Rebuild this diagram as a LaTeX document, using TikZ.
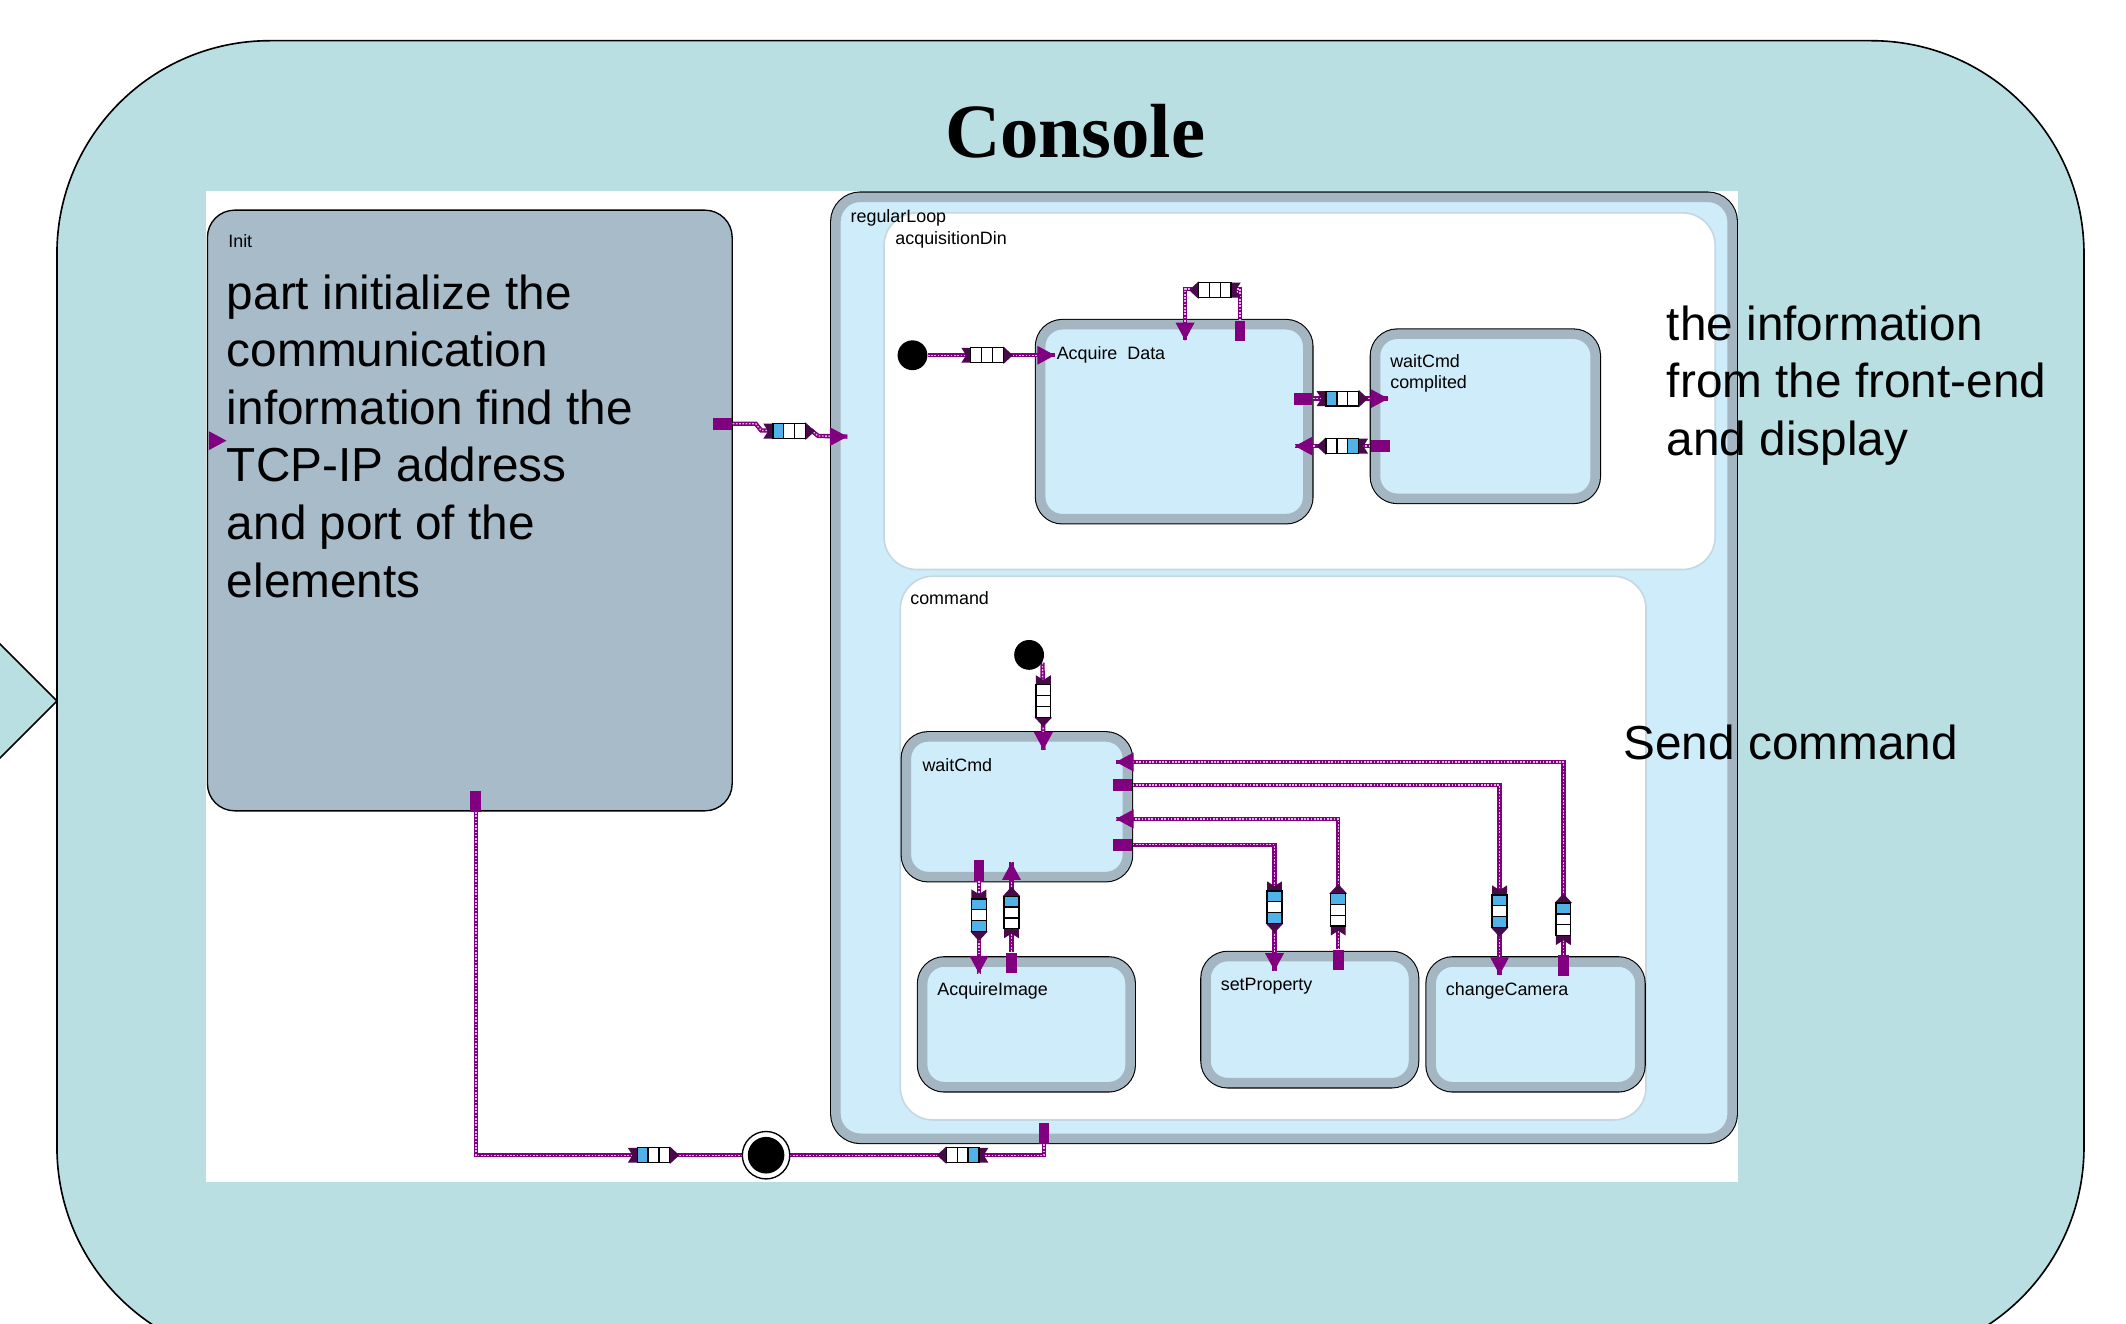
\documentclass[tikz,border=0pt]{standalone}
\usepackage{fontspec}
\setmainfont{Liberation Sans}
\newfontfamily\titlef{Liberation Serif}
\usetikzlibrary{fit,calc}
\definecolor{bgteal}{HTML}{B9DFE3}
\definecolor{initfill}{HTML}{A7BCC8}
\definecolor{stblue}{HTML}{CFECFA}
\definecolor{stgray}{HTML}{A3B6C1}
\definecolor{regline}{HTML}{C5D8E2}
\definecolor{trp}{HTML}{800080}
\definecolor{trl}{HTML}{E6B3E6}
\definecolor{qblue}{HTML}{4FB2E8}
\definecolor{qcap}{HTML}{4A0A4A}
\pgfdeclarelayer{cn}
\pgfdeclarelayer{top}
\pgfsetlayers{main,cn,top}
\begin{document}
\begin{tikzpicture}[x=0.5pt,y=-0.5pt,
  stbox/.style={rounded corners=#1, fill=stblue, draw=stgray, line width=3.5pt, inner sep=-1.75pt, preaction={draw=black, line width=4.3pt}},
  stbox/.default=8pt,
  rgn/.style={rounded corners=12pt, fill=white, draw=regline, line width=0.6pt, inner sep=0pt},
  initbox/.style={rounded corners=10pt, fill=initfill, draw=black, line width=0.5pt, inner sep=0pt},
  hport/.style={fill=trp, inner sep=0pt, minimum width=7pt, minimum height=4.5pt},
  vport/.style={fill=trp, inner sep=0pt, minimum width=4pt, minimum height=7.5pt},
  idot/.style={circle, fill=black, inner sep=0pt, minimum size=11pt},
  conn/.style={draw=trp, line width=1.6pt, postaction={draw=trl, line width=0.5pt, dash pattern=on 0.6pt off 0.6pt}},
  lbl/.style={font=\fontsize{6.6}{7.8}\selectfont, inner sep=0pt, anchor=west},
  big/.style={font=\fontsize{17.6}{21.25}\selectfont, align=left, inner sep=0pt, anchor=north west},
  pics/ah/.style={code={\fill[trp] (0,0) -- (-13,-7) -- (-13,7) -- cycle;}},
  pics/queue/.style n args={3}{code={
    \fill[qcap] (-19,-5.5) -- (-12,-5.5) -- (-12,5.5) -- (-19,5.5) -- (-15.5,0) -- cycle;
    \fill[qcap] (12,-6.5) -- (19,0) -- (12,6.5) -- cycle;
    \draw[black, line width=0.5pt, fill=#1] (-12,-5.5) rectangle (-4,5.5);
    \draw[black, line width=0.5pt, fill=#2] (-4,-5.5) rectangle (4,5.5);
    \draw[black, line width=0.5pt, fill=#3] (4,-5.5) rectangle (12,5.5);
  }}
]
\useasboundingbox (0,0) rectangle (1568,976);
\fill[white] (0,0) rectangle (1568,976);
\begin{scope}
  \clip (0,0) rectangle (1568,976);
  \draw[fill=bgteal, line width=0.6pt] (-10,465) -- (42,517) -- (-10,569);
  \draw[fill=bgteal, line width=0.6pt, rounded corners=78.5pt] (42,30) rectangle (1537,1003);
\end{scope}
\node[font=\titlef\bfseries\fontsize{28.3}{30}\selectfont] (title) at (793,97) {Console};
\node[fill=white, inner sep=0pt, fit={(152,141) (1282,872)}] (shot) {};
% containers and states
\node[initbox, fit={(153,155) (540,598)}] (init) {};
\node[stbox=9pt, fit={(613,142) (1281,843)}] (rl) {};
\node[rgn, fit={(652,157) (1265,420)}] (acqdin) {};
\node[rgn, fit={(664,425) (1214,826)}] (cmd) {};
\node[stbox, fit={(764,236) (968,386)}] (acq) {};
\node[stbox, fit={(1011,243) (1180,371)}] (wcc) {};
\node[stbox, fit={(665,540) (835,650)}] (wc) {};
\node[stbox, fit={(677,706) (837,805)}] (ai) {};
\node[stbox, fit={(886,702) (1046,802)}] (sp) {};
\node[stbox, fit={(1052,706) (1213,805)}] (cc) {};
% labels
\node[lbl] (linit) at (168,178) {Init};
\node[lbl] (lrl) at (627,161) {regularLoop};
\node[lbl] (lad) at (660,177) {acquisitionDin};
\node[lbl] (lacq) at (779,262) {Acquire\ \ Data};
\node[lbl, align=left, anchor=north west] (lwcc) at (1025,261) {waitCmd\\complited};
\node[lbl] (lcmd) at (671,441) {command};
\node[lbl] (lwc) at (680,564) {waitCmd};
\node[lbl] (lai) at (691,731) {AcquireImage};
\node[lbl] (lsp) at (900,727) {setProperty};
\node[lbl] (lcc) at (1066,731) {changeCamera};
\node[big] (tinit) at (167,202) {part initialize the\\communication\\information find the\\TCP-IP address\\and port of the\\elements};
\node[big] (tinfo) at (1229,225) {the information\\from the front-end\\and display};
\node[big] (tsend) at (1197,534) {Send command};
% markers
\begin{pgfonlayer}{top}
  \node[hport] (pInitR) at (533,312.5) {};
  \node[vport] (pInitB) at (351,591) {};
  \node[vport] (pSelf) at (914.5,244) {};
  \node[hport] (pAcqR) at (961,294) {};
  \node[hport] (pWccL) at (1018,329) {};
  \node[vport] (pRL) at (770,836) {};
  \node[hport] (pW2) at (828,579) {};
  \node[hport] (pW4) at (828,623) {};
  \node[vport] (pWB) at (722,642) {};
  \node[vport] (pAI) at (746,710) {};
  \node[vport] (pSP) at (987,708) {};
  \node[vport] (pCC) at (1153,712) {};
  \node[idot] (d1) at (673,262) {};
  \node[idot] (d2) at (759,483) {};
  \node[circle, draw=black, line width=0.5pt, fill=white, inner sep=0pt, minimum size=17.5pt] (fin) at (565,852) {};
  \node[circle, fill=black, inner sep=0pt, minimum size=13.5pt] (fini) at (fin.center) {};
  \coordinate (tInit) at (167,325);
  \coordinate (tRL) at (625,322);
  \coordinate (tAcq) at (778,262);
  \coordinate (tSelf) at (874,251);
  \coordinate (tWcc) at (1024,294);
  \coordinate (tAcqL) at (955,329);
  \coordinate (tWc) at (769.5,553);
  \coordinate (tAI) at (722,718);
  \coordinate (tWcB) at (746,636);
  \coordinate (tSP) at (940,716);
  \coordinate (tCC) at (1106,719);
  \coordinate (tW3) at (823,604);
  \coordinate (tW1) at (823,562);
  \pic at (tInit) {ah};
  \pic at (tRL) {ah};
  \pic at (tAcq) {ah};
  \pic[rotate=-90] at (tSelf) {ah};
  \pic at (tWcc) {ah};
  \pic[rotate=180] at (tAcqL) {ah};
  \pic[rotate=-90] at (tWc) {ah};
  \pic[rotate=-90] at (tAI) {ah};
  \pic[rotate=90] at (tWcB) {ah};
  \pic[rotate=-90] at (tSP) {ah};
  \pic[rotate=-90] at (tCC) {ah};
  \pic[rotate=180] at (tW3) {ah};
  \pic[rotate=180] at (tW1) {ah};
  \pic at (582,318) {queue={qblue}{white}{white}};
  \pic at (728,262) {queue={white}{white}{white}};
  \pic[rotate=180] at (896,214) {queue={white}{white}{white}};
  \pic at (990,294) {queue={qblue}{white}{white}};
  \pic[rotate=180] at (990,329) {queue={qblue}{white}{white}};
  \pic at (482,852) {queue={qblue}{white}{white}};
  \pic[rotate=180] at (710,852) {queue={qblue}{white}{white}};
  \pic[rotate=-90] at (769.5,517) {queue={white}{white}{white}};
  \pic[rotate=-90] at (722,675) {queue={qblue}{white}{qblue}};
  \pic[rotate=90] at (746,673) {queue={white}{white}{qblue}};
  \pic[rotate=-90] at (940,669) {queue={qblue}{white}{qblue}};
  \pic[rotate=90] at (987,671) {queue={white}{white}{qblue}};
  \pic[rotate=-90] at (1106,672) {queue={qblue}{white}{qblue}};
  \pic[rotate=90] at (1153,678) {queue={white}{white}{qblue}};
\end{pgfonlayer}
% connectors
\begin{pgfonlayer}{cn}
  \draw[conn] (pInitR.east) -- ++(17,0) -- ++(4,5) -- ++(37,0) -- ++(5,4) -- (tRL);
  \draw[conn] (d1.east) -- (tAcq);
  \draw[conn] (pSelf.north) -- ++(0,-23) -| (tSelf);
  \draw[conn] (pAcqR.east) -- (tWcc);
  \draw[conn] (pWccL.west) -- (tAcqL);
  \draw[conn] (pInitB.south) |- (fin.west);
  \draw[conn] (pRL.south) |- (fin.east);
  \draw[conn] (d2.-30) -- (tWc);
  \draw[conn] (pWB.south) -- (tAI);
  \draw[conn] (pAI.north) -- (tWcB);
  \draw[conn] (pW4.east) -| (tSP);
  \draw[conn] (pSP.north) |- (tW3);
  \draw[conn] (pW2.east) -| (tCC);
  \draw[conn] (pCC.north) |- (tW1);
\end{pgfonlayer}
\end{tikzpicture}
\end{document}
